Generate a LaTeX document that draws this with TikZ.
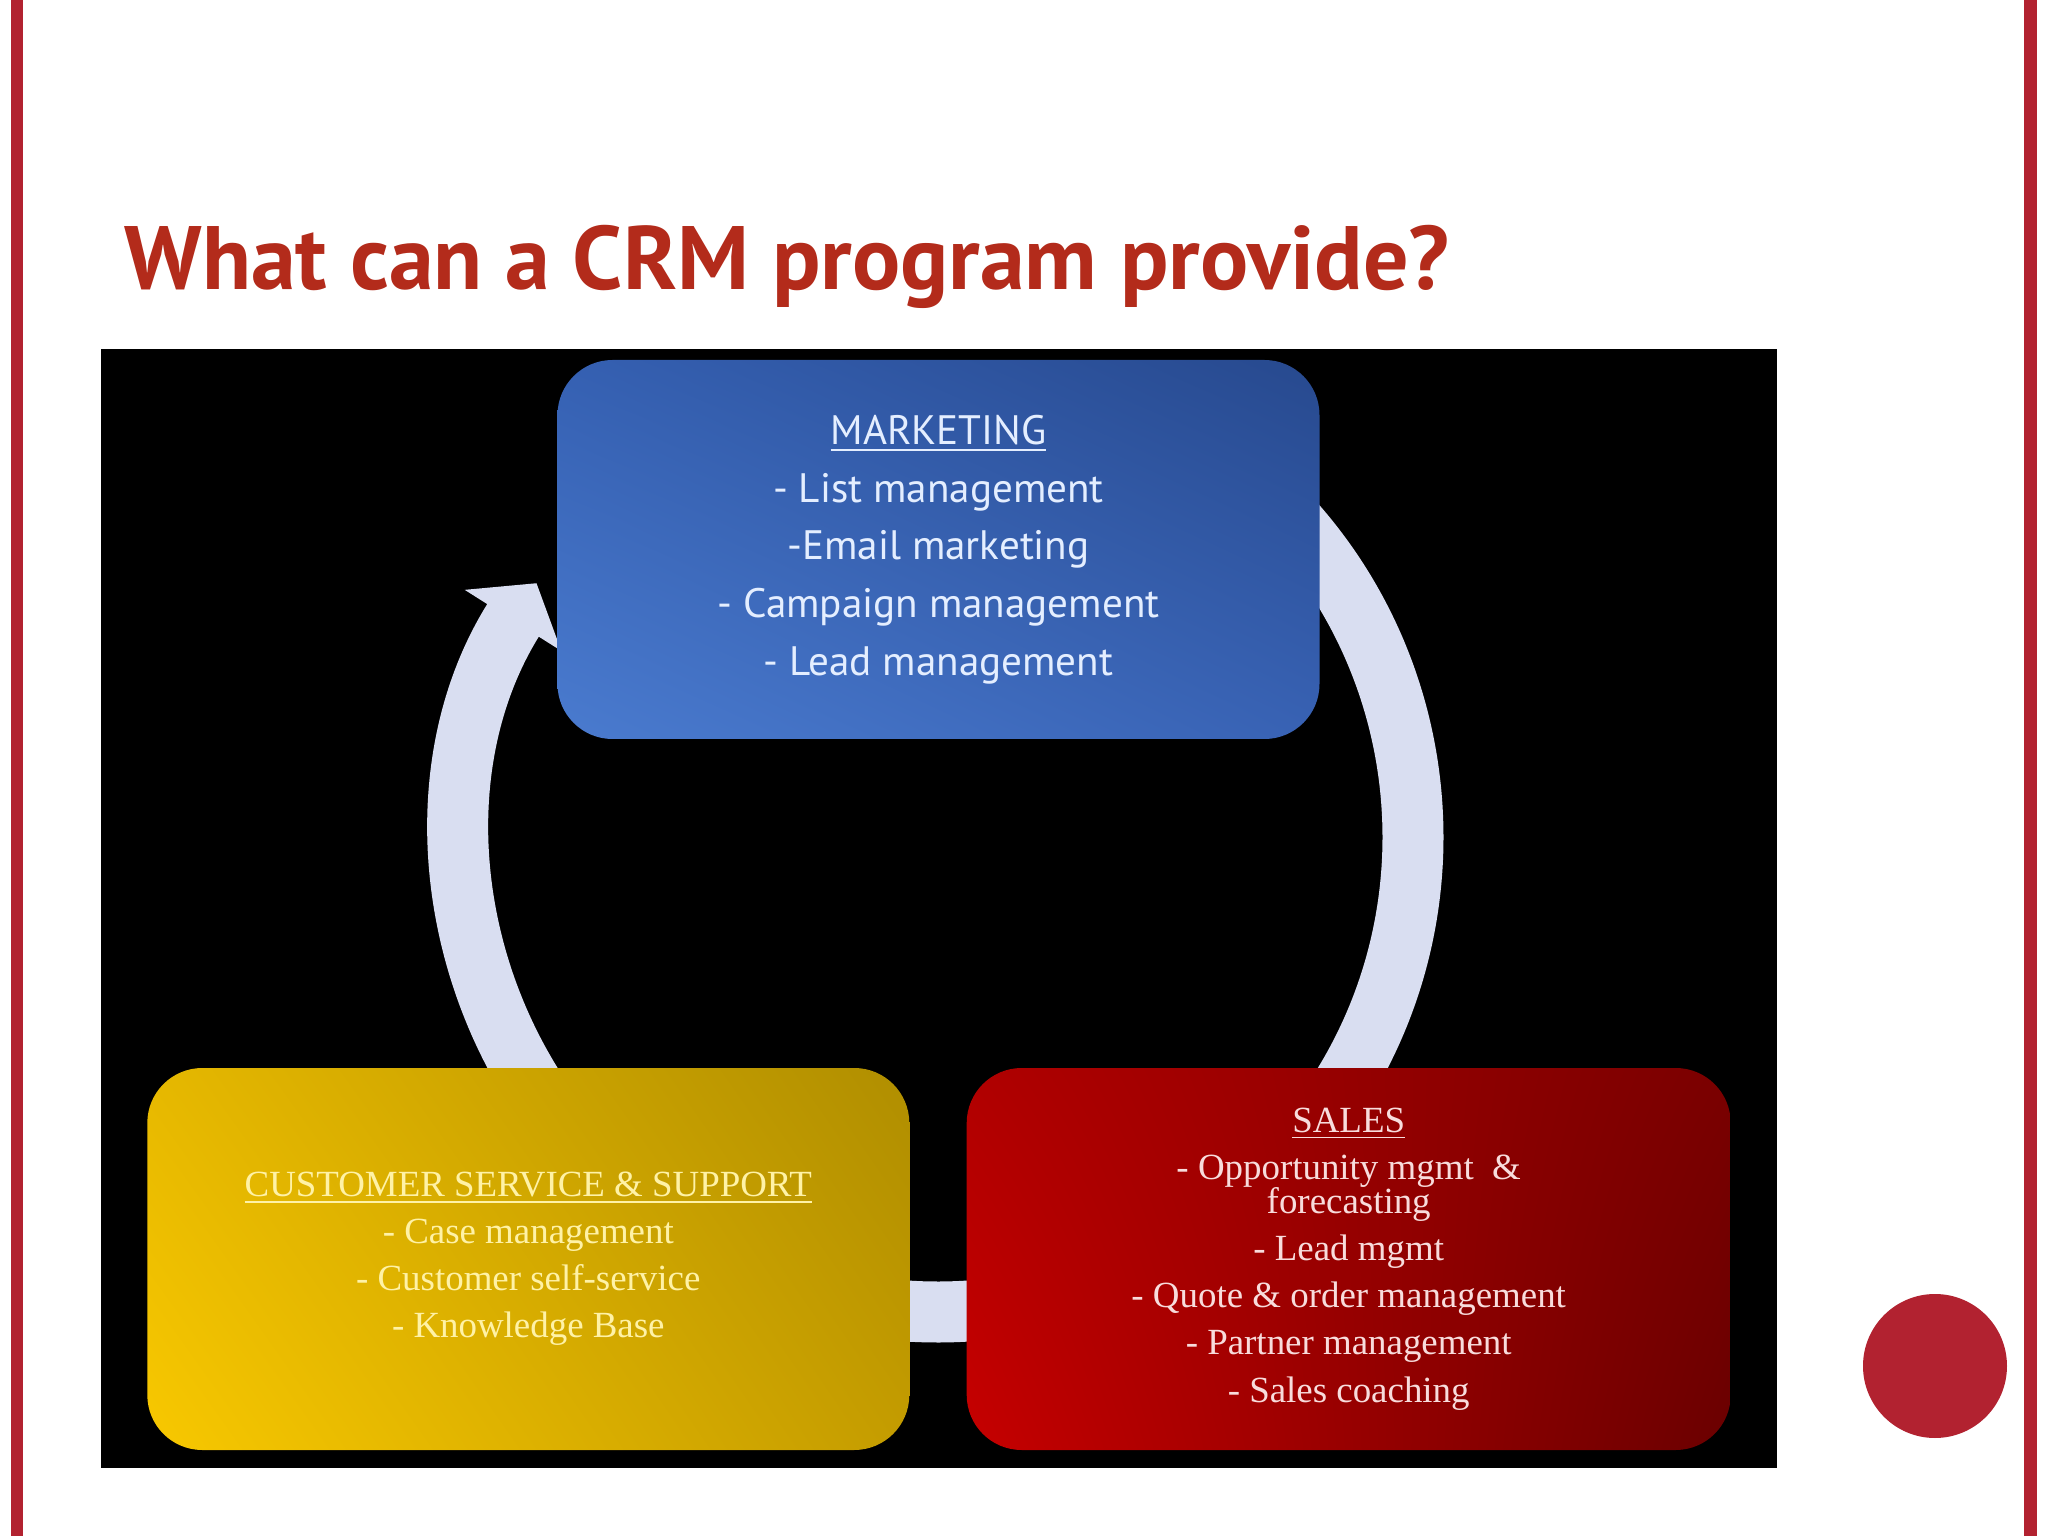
\documentclass[tikz,border=0pt]{standalone}
\usepackage{fontspec}
\setmainfont{Liberation Serif}
\newfontfamily\headfont{PT Sans}
\usetikzlibrary{positioning,arrows.meta,shadings}

\definecolor{slidered}{HTML}{B22230}
\definecolor{titlered}{HTML}{B32B1B}
\definecolor{ringblue}{HTML}{D9DEF1}
\definecolor{mktul}{HTML}{3560B2}
\definecolor{mktur}{HTML}{27498E}
\definecolor{mktll}{HTML}{4A7BCF}
\definecolor{mktlr}{HTML}{3862B4}
\definecolor{mkttext}{HTML}{E4EEFF}
\definecolor{cssul}{HTML}{E6B800}
\definecolor{cssur}{HTML}{B08E00}
\definecolor{cssll}{HTML}{F8C800}
\definecolor{csslr}{HTML}{C49C00}
\definecolor{csstext}{HTML}{FFF2A6}
\definecolor{salesul}{HTML}{B00000}
\definecolor{salesur}{HTML}{7A0000}
\definecolor{salesll}{HTML}{C60000}
\definecolor{saleslr}{HTML}{6A0000}
\definecolor{salestext}{HTML}{F8DCDC}

\begin{document}
\begin{tikzpicture}[
  title/.style={font=\headfont\bfseries\fontsize{25.6}{29}\selectfont, text=titlered, inner sep=0pt},
  box/.style={rectangle, rounded corners=0.55cm, minimum width=7.62cm, minimum height=3.82cm, align=center, inner sep=0pt},
  mktbox/.style={box, minimum height=3.79cm, shading=bilinear interpolation, upper left=mktul, upper right=mktur, lower left=mktll, lower right=mktlr, text=mkttext, font=\headfont\fontsize{11.7}{16.4}\selectfont},
  cssbox/.style={box, shading=bilinear interpolation, upper left=cssul, upper right=cssur, lower left=cssll, lower right=csslr, text=csstext, font=\fontsize{10.5}{13.4}\selectfont},
  salesbox/.style={box, minimum width=7.64cm, shading=bilinear interpolation, upper left=salesul, upper right=salesur, lower left=salesll, lower right=saleslr, text=salestext, font=\fontsize{10.5}{13.4}\selectfont},
  ring/.style={draw=ringblue, line width=6.1mm, -{Triangle[width=11.2mm,length=4.4mm]}},
  bullet/.style={circle, fill=slidered, minimum size=1.44cm, inner sep=0pt}]

  \useasboundingbox (0,0) rectangle (20.48,-15.36);
  \fill[white] (0,0) rectangle (20.48,-15.36);
  % slide frame
  \fill[slidered] (0.11,0) rectangle (0.23,-15.36);
  \fill[slidered] (20.24,0) rectangle (20.37,-15.36);

  \node[title, anchor=base west] (title) at (1.24,-2.90) {What can a CRM program provide?};

  % picture panel
  \fill[black] (1.01,-3.49) rectangle (17.77,-14.68);

  % cycle arrow
  \coordinate (hub) at (9.38,-8.37);
  \draw[ring] ([shift={(50:4.75)}]hub) arc[start angle=50, end angle=-212.3, radius=4.75];

  \node[mktbox] (mkt) at (9.385,-5.495) {\underline{MARKETING}\\- List management\\-Email marketing\\- Campaign management\\- Lead management};
  \coordinate (gap) at (9.38,-12.59);
  \node[cssbox, left=0.28cm of gap] (css) {\underline{CUSTOMER SERVICE \& SUPPORT}\\- Case management\\- Customer self-service\\- Knowledge Base};
  \node[salesbox, right=0.28cm of gap] (sales) {\underline{SALES}\\- Opportunity mgmt \ \&\\[-3.7pt]forecasting\\- Lead mgmt\\- Quote \& order management\\- Partner management\\- Sales coaching};

  \node[bullet] (dot) at (19.35,-13.66) {};
\end{tikzpicture}
\end{document}
